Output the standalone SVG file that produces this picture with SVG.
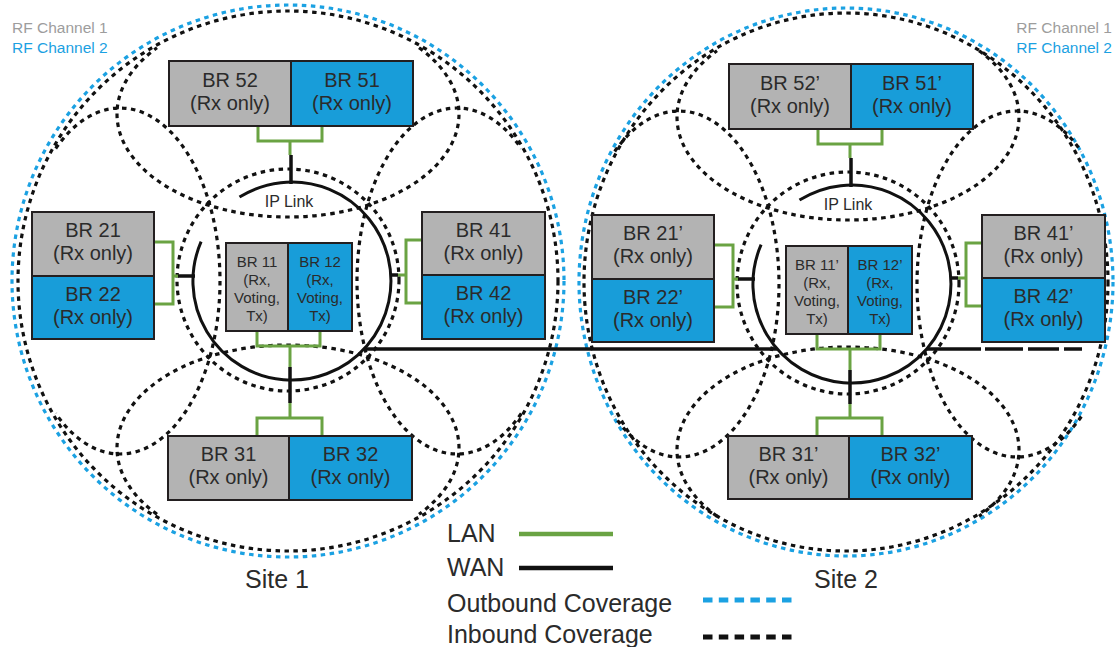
<svg xmlns="http://www.w3.org/2000/svg" width="1117" height="647" viewBox="0 0 1117 647">
<style>
.bg{fill:#ffffff}
.cin{fill:none;stroke:#111111;stroke-width:3.2;stroke-dasharray:4.5 4.5}
.cout{fill:none;stroke:#1ba1e2;stroke-width:3.2;stroke-dasharray:4.5 4.5}
.lan{fill:none;stroke:#6aa343;stroke-width:3}
.wan{fill:none;stroke:#111111;stroke-width:3.5}
.ip{fill:none;stroke:#111111;stroke-width:3}
.gray{fill:#b3b3b3;stroke:#231f20;stroke-width:2}
.blue{fill:#189dd9;stroke:#231f20;stroke-width:2}
text{font-family:"Liberation Sans",Arial,Helvetica,sans-serif;fill:#2b2b2b}
.t{font-size:20px;text-anchor:middle}
.ts{font-size:15px;text-anchor:middle}
.ipt{font-size:16px;text-anchor:middle}
.site{font-size:25px;text-anchor:middle}
.leg{font-size:25px}
.rf{font-size:15.5px}
</style>
<rect class="bg" x="0" y="0" width="1117" height="647"/>

<g id="coverage">
  <!-- Site 1 -->
  <circle class="cout" cx="288" cy="281" r="276"/>
  <circle class="cin" cx="288" cy="281" r="270"/>
  <path class="cin" d="M419,47.8 A171,103 0 1 1 157,47.8"/>
  <path class="cin" d="M157,514.2 A171,103 0 1 1 419,514.2"/>
  <path class="cin" d="M55.7,148.5 A100,173 0 1 1 55.7,413.5"/>
  <path class="cin" d="M521.3,413.5 A100,173 0 1 1 521.3,148.5"/>
  <circle class="cin" cx="288" cy="280" r="111"/>
  <!-- Site 2 -->
  <ellipse class="cout" cx="846" cy="282" rx="267" ry="274"/>
  <ellipse class="cin" cx="846" cy="282" rx="262" ry="269"/>
  <path class="cin" d="M979,50.8 A171,103 0 1 1 717,50.8"/>
  <path class="cin" d="M717,516.2 A171,103 0 1 1 979,516.2"/>
  <path class="cin" d="M614.7,151.5 A100,173 0 1 1 614.7,416.5"/>
  <path class="cin" d="M1081.3,416.5 A100,173 0 1 1 1081.3,151.5"/>
  <circle class="cin" cx="848" cy="283" r="111"/>
</g>

<g id="connectors">
  <!-- Site 1 IP link ring -->
  <path class="ip" d="M239.5,197.1 A99,99 0 1 1 201.1,241.7"/>
  <!-- Site 1 LAN -->
  <path class="lan" d="M258,126 V141 H322 V126 M290,141 V155"/>
  <path class="lan" d="M257,331 V346 H320 V331 M290,346 V367 M290,403 V418 M257,436 V418 H322 V436"/>
  <path class="lan" d="M154,242 H173 V304 H154 M173,276 H179"/>
  <path class="lan" d="M422,240 H406 V303 H422 M406,275 H398"/>
  <!-- Site 1 WAN stubs -->
  <path class="wan" d="M291,155 V184 M290,367 V403 M178,276 H195 M398,275 H390"/>
  <!-- inter-site WAN -->
  <path class="wan" d="M364,349 H777"/>
  <!-- Site 2 IP link ring -->
  <path class="ip" d="M799.5,200.1 A99,99 0 1 1 761.1,244.7"/>
  <!-- Site 2 LAN -->
  <path class="lan" d="M818,129 V144 H882 V129 M850,144 V158"/>
  <path class="lan" d="M817,334 V349 H880 V334 M850,349 V370 M850,404 V418 M817,436 V418 H882 V436"/>
  <path class="lan" d="M714,245 H733 V307 H714 M733,279 H739"/>
  <path class="lan" d="M982,243 H966 V306 H982 M966,278 H958"/>
  <!-- Site 2 WAN stubs -->
  <path class="wan" d="M851,158 V187 M850,370 V404 M738,279 H755 M958,278 H950"/>
  <path class="wan" d="M927,349 H981 M985,349 H1023 M1028,349 H1059 M1064,349 H1082"/>
</g>

<g id="ip-link-1"><text class="ipt" x="289" y="207">IP Link</text></g>
<g id="ip-link-2"><text class="ipt" x="848" y="210">IP Link</text></g>

<!-- Site 1 nodes -->
<g id="br52"><rect class="gray" x="169" y="61" width="122" height="65"/><text class="t" x="230" y="86.5">BR 52</text><text class="t" x="230" y="109.5">(Rx only)</text></g>
<g id="br51"><rect class="blue" x="291" y="61" width="122" height="65"/><text class="t" x="352" y="86.5">BR 51</text><text class="t" x="352" y="109.5">(Rx only)</text></g>
<g id="br21"><rect class="gray" x="32" y="212" width="122" height="64"/><text class="t" x="93" y="237">BR 21</text><text class="t" x="93" y="260">(Rx only)</text></g>
<g id="br22"><rect class="blue" x="32" y="276" width="122" height="63"/><text class="t" x="93" y="300.5">BR 22</text><text class="t" x="93" y="323.5">(Rx only)</text></g>
<g id="br41"><rect class="gray" x="422" y="212" width="123" height="63"/><text class="t" x="483.5" y="237">BR 41</text><text class="t" x="483.5" y="260">(Rx only)</text></g>
<g id="br42"><rect class="blue" x="422" y="275" width="123" height="64"/><text class="t" x="483.5" y="300">BR 42</text><text class="t" x="483.5" y="323">(Rx only)</text></g>
<g id="br11"><rect class="gray" x="226" y="243" width="62" height="88"/><text class="ts" x="257" y="267">BR 11</text><text class="ts" x="257" y="285">(Rx,</text><text class="ts" x="257" y="303">Voting,</text><text class="ts" x="257" y="321">Tx)</text></g>
<g id="br12"><rect class="blue" x="288" y="243" width="64" height="88"/><text class="ts" x="320" y="267">BR 12</text><text class="ts" x="320" y="285">(Rx,</text><text class="ts" x="320" y="303">Voting,</text><text class="ts" x="320" y="321">Tx)</text></g>
<g id="br31"><rect class="gray" x="168" y="436" width="121" height="64"/><text class="t" x="228.5" y="461">BR 31</text><text class="t" x="228.5" y="484">(Rx only)</text></g>
<g id="br32"><rect class="blue" x="289" y="436" width="123" height="64"/><text class="t" x="350.5" y="461">BR 32</text><text class="t" x="350.5" y="484">(Rx only)</text></g>

<!-- Site 2 nodes -->
<g id="br52p"><rect class="gray" x="729" y="64" width="122" height="65"/><text class="t" x="790" y="89.5">BR 52’</text><text class="t" x="790" y="112.5">(Rx only)</text></g>
<g id="br51p"><rect class="blue" x="851" y="64" width="122" height="65"/><text class="t" x="912" y="89.5">BR 51’</text><text class="t" x="912" y="112.5">(Rx only)</text></g>
<g id="br21p"><rect class="gray" x="592" y="215" width="122" height="64"/><text class="t" x="653" y="240">BR 21’</text><text class="t" x="653" y="263">(Rx only)</text></g>
<g id="br22p"><rect class="blue" x="592" y="279" width="122" height="63"/><text class="t" x="653" y="303.5">BR 22’</text><text class="t" x="653" y="326.5">(Rx only)</text></g>
<g id="br41p"><rect class="gray" x="982" y="215" width="123" height="63"/><text class="t" x="1043.5" y="240">BR 41’</text><text class="t" x="1043.5" y="263">(Rx only)</text></g>
<g id="br42p"><rect class="blue" x="982" y="278" width="123" height="64"/><text class="t" x="1043.5" y="303">BR 42’</text><text class="t" x="1043.5" y="326">(Rx only)</text></g>
<g id="br11p"><rect class="gray" x="786" y="246" width="62" height="88"/><text class="ts" x="817" y="270">BR 11’</text><text class="ts" x="817" y="288">(Rx,</text><text class="ts" x="817" y="306">Voting,</text><text class="ts" x="817" y="324">Tx)</text></g>
<g id="br12p"><rect class="blue" x="848" y="246" width="64" height="88"/><text class="ts" x="880" y="270">BR 12’</text><text class="ts" x="880" y="288">(Rx,</text><text class="ts" x="880" y="306">Voting,</text><text class="ts" x="880" y="324">Tx)</text></g>
<g id="br31p"><rect class="gray" x="728" y="436" width="121" height="63"/><text class="t" x="788.5" y="461">BR 31’</text><text class="t" x="788.5" y="484">(Rx only)</text></g>
<g id="br32p"><rect class="blue" x="849" y="436" width="123" height="63"/><text class="t" x="910.5" y="461">BR 32’</text><text class="t" x="910.5" y="484">(Rx only)</text></g>

<g id="labels">
  <text class="rf" x="12" y="33" style="fill:#9d9d9d">RF Channel 1</text>
  <text class="rf" x="12" y="53" style="fill:#1ba1e2">RF Channel 2</text>
  <text class="rf" x="1112" y="33" style="fill:#9d9d9d;text-anchor:end">RF Channel 1</text>
  <text class="rf" x="1112" y="53" style="fill:#1ba1e2;text-anchor:end">RF Channel 2</text>
  <text class="site" x="277" y="588">Site 1</text>
  <text class="site" x="846" y="588">Site 2</text>
</g>

<g id="legend">
  <text class="leg" x="447" y="542">LAN</text>
  <line x1="519" y1="534" x2="613" y2="534" stroke="#6aa343" stroke-width="4.5"/>
  <text class="leg" x="447" y="576">WAN</text>
  <line x1="519" y1="568" x2="613" y2="568" stroke="#111111" stroke-width="4.5"/>
  <text class="leg" x="447" y="612">Outbound Coverage</text>
  <line x1="703" y1="600" x2="792" y2="600" stroke="#1ba1e2" stroke-width="5" stroke-dasharray="9.5 6.3"/>
  <text class="leg" x="447" y="643">Inbound Coverage</text>
  <line x1="703" y1="637" x2="792" y2="637" stroke="#111111" stroke-width="5" stroke-dasharray="9.5 6.3"/>
</g>
</svg>
